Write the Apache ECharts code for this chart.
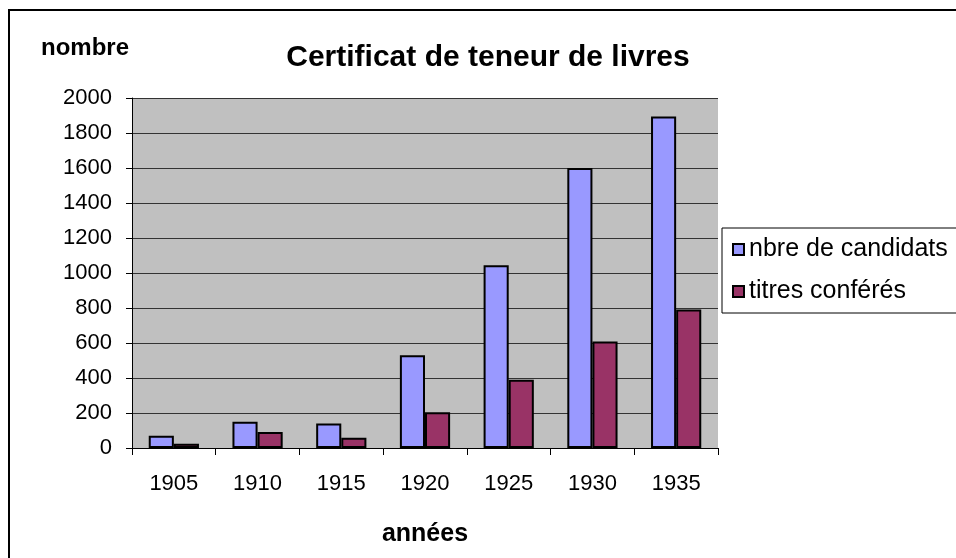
<!DOCTYPE html>
<html>
<head>
<meta charset="utf-8">
<script src="https://cdn.jsdelivr.net/npm/echarts@6/dist/echarts.min.js"></script>
<style>
  html, body { margin: 0; padding: 0; background: #fff; }
  #main { width: 956px; height: 558px; }
</style>
</head>
<body>
<div id="main"></div>
<script>
// données
var years = ["1905", "1910", "1915", "1920", "1925", "1930", "1935"];
var candidats = [70, 150, 140, 530, 1045, 1600, 1895];
var titres = [25, 92, 58, 205, 390, 608, 792];

var font = "Liberation Sans, Arial, sans-serif";
var chart = echarts.init(document.getElementById("main"));

var option = {
  backgroundColor: "#fff",
  animation: false,
  textStyle: { fontFamily: font },
  title: [
    {
      text: "Certificat de teneur de livres",
      left: 488,
      top: 43,
      textAlign: "center",
      padding: 0,
      textStyle: { fontSize: 30, fontWeight: "bold", color: "#000", fontFamily: font }
    },
    {
      // titre de l'axe vertical
      text: "nombre",
      left: 41,
      top: 36,
      padding: 0,
      textStyle: { fontSize: 24, fontWeight: "bold", color: "#000", fontFamily: font }
    }
  ],
  legend: {
    orient: "vertical",
    left: 722,
    top: 228,
    itemWidth: 11,
    itemHeight: 11,
    itemGap: 17,
    icon: "rect",
    padding: [9, 40, 9, 10],
    borderColor: "#000",
    borderWidth: 1,
    backgroundColor: "#fff",
    textStyle: { fontSize: 25, color: "#000", fontFamily: font },
    data: ["nbre de candidats", "titres conférés"]
  },
  grid: { left: 132, right: 238, top: 98, bottom: 110, show: true, backgroundColor: "#c0c0c0", borderWidth: 0 },
  xAxis: {
    type: "category",
    data: years,
    name: "années",
    nameLocation: "middle",
    nameGap: 74,
    nameTextStyle: { fontSize: 25, fontWeight: "bold", color: "#000", fontFamily: font },
    axisLine: { lineStyle: { color: "#000", width: 1 } },
    axisTick: { show: true, length: 7, lineStyle: { color: "#000" } },
    axisLabel: { fontSize: 22, color: "#000", margin: 25, fontFamily: font }
  },
  yAxis: {
    type: "value",
    min: 0,
    max: 2000,
    interval: 200,
    axisLine: { show: true, lineStyle: { color: "#000", width: 1 } },
    axisTick: { show: true, length: 6, lineStyle: { color: "#000" } },
    axisLabel: { fontSize: 22, color: "#000", margin: 20, fontFamily: font, formatter: function (v) { return String(v); } },
    splitLine: { show: true, lineStyle: { color: "#333", width: 1 } }
  },
  series: [
    {
      name: "nbre de candidats",
      type: "bar",
      data: candidats,
      barGap: "0%",
      barCategoryGap: "40%",
      itemStyle: { color: "#9999ff", borderColor: "#000", borderWidth: 2 }
    },
    {
      name: "titres conférés",
      type: "bar",
      data: titres,
      itemStyle: { color: "#993366", borderColor: "#000", borderWidth: 2 }
    }
  ],
  graphic: [
    {
      type: "rect",
      shape: { x: 9, y: 10, width: 980, height: 580 },
      style: { fill: null, stroke: "#000", lineWidth: 2 },
      z: 100
    }
  ]
};

chart.setOption(option);
</script>
</body>
</html>
